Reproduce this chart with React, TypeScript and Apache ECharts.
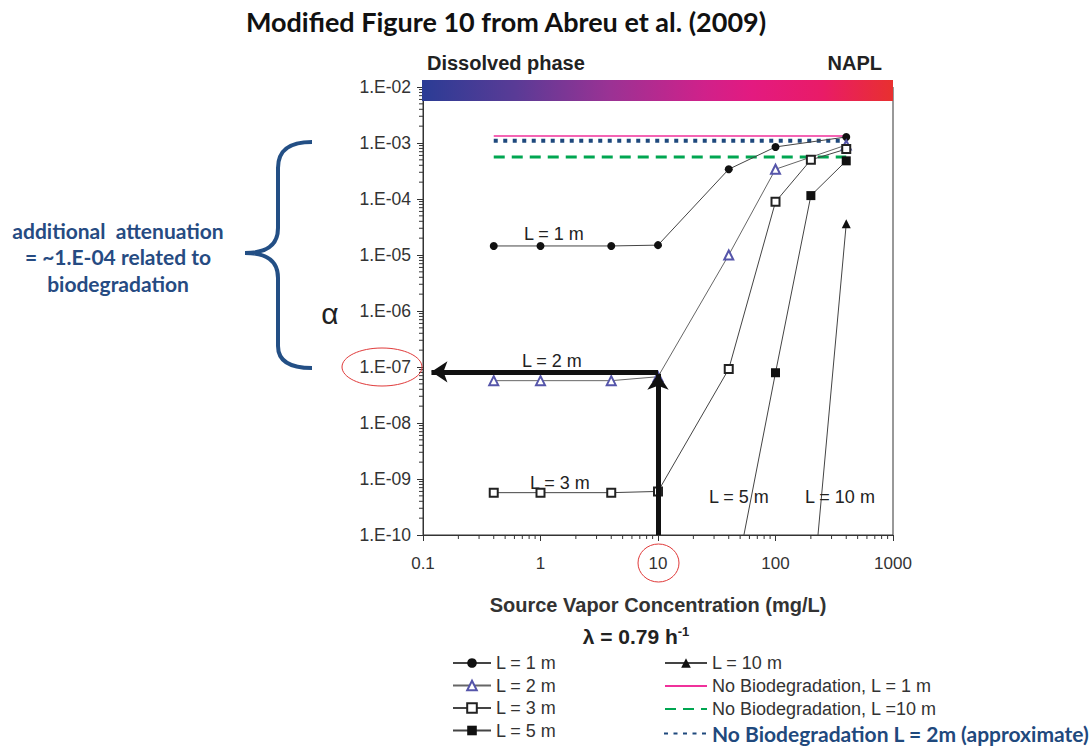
import React, { useEffect, useRef } from 'react';
import * as echarts from 'echarts';

// ---------- data ----------
const xTickLabels = ['0.1', '1', '10', '100', '1000'];
const yTickLabels = ['1.E-10', '1.E-09', '1.E-08', '1.E-07', '1.E-06', '1.E-05', '1.E-04', '1.E-03', '1.E-02'];

const seriesL1 = [[0.4, 1.45e-5], [1, 1.45e-5], [4, 1.45e-5], [10, 1.5e-5], [40, 3.4e-4], [100, 8.5e-4], [400, 1.28e-3]];
const seriesL2 = [[0.4, 5.7e-8], [1, 5.7e-8], [4, 5.7e-8], [10, 6.7e-8], [40, 1.0e-5], [100, 3.4e-4], [400, 9.2e-4]];
const seriesL3 = [[0.4, 5.7e-10], [1, 5.7e-10], [4, 5.7e-10], [10, 6.0e-10], [40, 9.2e-8], [100, 8.9e-5], [200, 5.0e-4], [400, 7.8e-4]];
const seriesL5 = [[50, 4.5e-11], [100, 7.9e-8], [200, 1.15e-4], [400, 4.8e-4]];
const seriesL10 = [[200, 4e-12], [400, 3.6e-5]];
const noBioL1 = [[0.4, 1.33e-3], [400, 1.33e-3]];
const noBioL10 = [[0.4, 5.6e-4], [400, 5.6e-4]];
const noBioL2 = [[0.4, 1.1e-3], [400, 1.1e-3]];
const arrowVertical = [[10, 1e-10], [10, 7.6e-8]];
const arrowHorizontal = [[10, 8.2e-8], [0.118, 8.2e-8]];

const seriesNames = ['L = 1 m', 'L = 2 m', 'L = 3 m', 'L = 5 m', 'L = 10 m',
  'No Biodegradation, L = 1 m', 'No Biodegradation, L =10 m', 'No Biodegradation L = 2m (approximate)'];

const curveLabels = ['L = 1 m', 'L = 2 m', 'L = 3 m', 'L = 5 m', 'L = 10 m'];

// minor tick positions (axis decoration)
const minorMultipliers = [2, 3, 4, 5, 6, 7, 8, 9];
const xDecades = [0.1, 1, 10, 100];
const yDecades = [1e-10, 1e-9, 1e-8, 1e-7, 1e-6, 1e-5, 1e-4, 1e-3];
const xMinor: number[] = [];
xDecades.forEach((d) => minorMultipliers.forEach((m) => xMinor.push(d * m)));
const yMinor: number[] = [];
yDecades.forEach((d) => minorMultipliers.forEach((m) => yMinor.push(d * m)));

const bracePath = 'M312,142 C292,142 278,148 278,168 L278,228 C278,246 266,253 245,253 C266,253 278,260 278,278 L278,346 C278,362 292,368 312,368';
echarts.graphic.registerShape('brace', echarts.graphic.extendPath(bracePath, {}) as any);

const SANS = 'Liberation Sans';
const GRID = { left: 423, top: 87, width: 470, height: 448 };

export default function App() {
  const ref = useRef<HTMLDivElement>(null);
  useEffect(() => {
    const chart = echarts.init(ref.current!, null, { renderer: 'svg' });
    const lineGray = '#444';
    const legendText = { fontFamily: SANS, fontSize: 18, lineHeight: 18, color: '#333' };
    const option: any = {
      animation: false,
      backgroundColor: '#fff',
      grid: { ...GRID, show: true, borderColor: '#333', borderWidth: 1 },
      xAxis: {
        type: 'log', logBase: 10, min: 0.1, max: 1000, splitNumber: 4,
        name: 'Source Vapor Concentration (mg/L)', nameLocation: 'middle', nameGap: 60,
        nameTextStyle: { fontFamily: SANS, fontWeight: 'bold', fontSize: 20, color: '#333' },
        axisLine: { lineStyle: { color: '#333', width: 1 } },
        axisTick: { show: true, length: 6, lineStyle: { color: '#333' } },
        splitLine: { show: false },
        axisLabel: {
          margin: 20, fontFamily: SANS, fontSize: 17, color: '#333',
          formatter: (v: number) => xTickLabels[Math.round(Math.log10(v)) + 1] ?? '',
        },
      },
      yAxis: {
        type: 'log', logBase: 10, min: 1e-10, max: 1e-2, splitNumber: 8,
        axisLine: { show: true, lineStyle: { color: '#333', width: 1 } },
        axisTick: { show: true, length: 6, lineStyle: { color: '#333' } },
        splitLine: { show: false },
        axisLabel: {
          margin: 12, fontFamily: SANS, fontSize: 17.5, color: '#333',
          formatter: (v: number) => yTickLabels[Math.round(Math.log10(v)) + 10] ?? '',
        },
      },
      legend: [
        {
          left: 452, top: 654, orient: 'vertical', padding: 0, itemGap: 4.5, itemWidth: 38, itemHeight: 12,
          textStyle: legendText,
          data: seriesNames.slice(0, 4),
        },
        {
          left: 664, top: 654, orient: 'vertical', padding: 0, itemGap: 5, itemWidth: 42, itemHeight: 12,
          textStyle: legendText,
          data: [
            seriesNames[4],
            { name: seriesNames[5], itemStyle: { opacity: 0 } },
            { name: seriesNames[6], itemStyle: { opacity: 0 } },
          ],
        },
        {
          left: 663, top: 723, orient: 'vertical', padding: 0, itemWidth: 43, itemHeight: 12,
          textStyle: { fontFamily: 'Lato', fontWeight: 'bold', fontSize: 21, lineHeight: 21, color: '#1f497d' },
          data: [{ name: seriesNames[7], itemStyle: { opacity: 0 } }],
        },
      ],
      series: [
        {
          name: seriesNames[5], type: 'line', data: noBioL1, symbol: 'none', z: 2,
          lineStyle: { color: '#f0319b', width: 1.5 },
          itemStyle: { color: '#f0319b' },
        },
        {
          name: seriesNames[6], type: 'line', data: noBioL10, symbol: 'none', z: 2,
          lineStyle: { color: '#00a651', width: 3, type: [11, 7] },
          itemStyle: { color: '#00a651' },
        },
        {
          name: seriesNames[7], type: 'line', data: noBioL2, symbol: 'none', z: 2,
          lineStyle: { color: '#1f497d', width: 4, type: [4, 5.5] },
          itemStyle: { color: '#1f497d' },
        },
        {
          name: seriesNames[0], type: 'line', data: seriesL1, symbol: 'circle', symbolSize: 8, z: 3,
          lineStyle: { color: lineGray, width: 1 }, itemStyle: { color: '#111' },
        },
        {
          name: seriesNames[1], type: 'line', data: seriesL2, symbol: 'emptyTriangle', symbolSize: 9, z: 3,
          lineStyle: { color: '#666', width: 1 }, itemStyle: { color: '#5555aa', borderWidth: 1.2 },
        },
        {
          name: seriesNames[2], type: 'line', data: seriesL3, symbol: 'emptyRect', symbolSize: 8, z: 3,
          lineStyle: { color: lineGray, width: 1 }, itemStyle: { color: '#222', borderWidth: 1.2 },
        },
        {
          name: seriesNames[3], type: 'line', data: seriesL5, symbol: 'rect', symbolSize: 9, z: 3,
          lineStyle: { color: lineGray, width: 1 }, itemStyle: { color: '#111' },
        },
        {
          name: seriesNames[4], type: 'line', symbol: 'triangle', symbolSize: 9, z: 3,
          data: seriesL10.map((p, i) => (i === 0 ? { value: p, symbol: 'none' } : { value: p })),
          lineStyle: { color: lineGray, width: 1 }, itemStyle: { color: '#111' },
        },
        {
          type: 'lines', coordinateSystem: 'cartesian2d', z: 10, silent: true,
          symbol: ['none', 'arrow'], symbolSize: 16,
          lineStyle: { color: '#111', width: 5, opacity: 1, curveness: 0 },
          data: [{ coords: arrowVertical }, { coords: arrowHorizontal }],
        },
        {
          type: 'custom', silent: true, clip: false, z: 4,
          data: xMinor.map((v) => [v, 1e-10]),
          renderItem: (params: any, api: any) => {
            const p = api.coord([api.value(0), api.value(1)]);
            return { type: 'line', shape: { x1: p[0], y1: p[1], x2: p[0], y2: p[1] + 4 }, style: { stroke: '#333', lineWidth: 1 } };
          },
        },
        {
          type: 'custom', silent: true, clip: false, z: 4,
          data: yMinor.map((v) => [0.1, v]),
          renderItem: (params: any, api: any) => {
            const p = api.coord([api.value(0), api.value(1)]);
            return { type: 'line', shape: { x1: p[0] - 4, y1: p[1], x2: p[0], y2: p[1] }, style: { stroke: '#333', lineWidth: 1 } };
          },
        },
      ],
      graphic: [
        {
          type: 'text', x: 506, y: 21, z: 100,
          style: { text: 'Modified Figure 10 from Abreu et al. (2009)', fontFamily: 'Lato', fontWeight: 'bold', fontSize: 27, fill: '#111', align: 'center', verticalAlign: 'middle' },
        },
        {
          type: 'rect', z: 100,
          shape: { x: 422, y: 80, width: 471, height: 21 },
          style: {
            fill: new echarts.graphic.LinearGradient(0, 0, 1, 0, [
              { offset: 0, color: '#2b3c95' },
              { offset: 0.2, color: '#5a3b96' },
              { offset: 0.4, color: '#9b3294' },
              { offset: 0.6, color: '#d0218a' },
              { offset: 0.7, color: '#e31a80' },
              { offset: 0.85, color: '#e91b67' },
              { offset: 1, color: '#e8302f' },
            ]),
          },
        },
        {
          type: 'text', x: 427, y: 63, z: 100,
          style: { text: 'Dissolved phase', fontFamily: SANS, fontWeight: 'bold', fontSize: 20, fill: '#222', verticalAlign: 'middle' },
        },
        {
          type: 'text', x: 882, y: 63, z: 100,
          style: { text: 'NAPL', fontFamily: SANS, fontWeight: 'bold', fontSize: 20, fill: '#222', align: 'right', verticalAlign: 'middle' },
        },
        {
          type: 'text', x: 330, y: 313, z: 100,
          style: { text: 'α', fontFamily: SANS, fontSize: 30, fill: '#222', align: 'center', verticalAlign: 'middle' },
        },
        {
          type: 'text', x: 118, y: 217, z: 100,
          style: {
            text: 'additional  attenuation\n= ~1.E-04 related to\nbiodegradation',
            fontFamily: 'Lato', fontWeight: 'bold', fontSize: 21, lineHeight: 26.5, fill: '#264b82', align: 'center', verticalAlign: 'top',
          },
        },
        {
          type: 'brace', x: 0, y: 0, scaleX: 1, scaleY: 1, z: 100,
          style: { stroke: '#234f85', lineWidth: 4, fill: null },
        },
        {
          type: 'ellipse', z: 100,
          shape: { cx: 382, cy: 367, rx: 40, ry: 19 },
          style: { stroke: '#e03a3a', lineWidth: 1, fill: null },
        },
        {
          type: 'ellipse', z: 100,
          shape: { cx: 658.5, cy: 563, rx: 20.5, ry: 19 },
          style: { stroke: '#e03a3a', lineWidth: 1, fill: null },
        },
        { type: 'text', x: 524, y: 234, z: 100, style: { text: curveLabels[0], fontFamily: SANS, fontSize: 18, fill: '#222', verticalAlign: 'middle' } },
        { type: 'text', x: 522, y: 361, z: 100, style: { text: curveLabels[1], fontFamily: SANS, fontSize: 18, fill: '#222', verticalAlign: 'middle' } },
        { type: 'text', x: 530, y: 483, z: 100, style: { text: curveLabels[2], fontFamily: SANS, fontSize: 18, fill: '#222', verticalAlign: 'middle' } },
        { type: 'text', x: 709, y: 497, z: 100, style: { text: curveLabels[3], fontFamily: SANS, fontSize: 18, fill: '#222', verticalAlign: 'middle' } },
        { type: 'text', x: 805, y: 497, z: 100, style: { text: curveLabels[4], fontFamily: SANS, fontSize: 18, fill: '#222', verticalAlign: 'middle' } },
        {
          type: 'text', x: 636, y: 636, z: 100,
          style: {
            text: '{a|λ = 0.79 h}{s|-1}', align: 'center', verticalAlign: 'middle',
            rich: {
              a: { fontFamily: SANS, fontWeight: 'bold', fontSize: 21, fill: '#222', color: '#222' },
              s: { fontFamily: SANS, fontWeight: 'bold', fontSize: 13, fill: '#222', color: '#222', verticalAlign: 'top', padding: [0, 0, 10, 0] },
            },
          },
        },
      ],
    };
    chart.setOption(option);
    return () => chart.dispose();
  }, []);
  return <div ref={ref} style={{ position: 'absolute', left: 0, top: 0, width: 1091, height: 746 }} />;
}
